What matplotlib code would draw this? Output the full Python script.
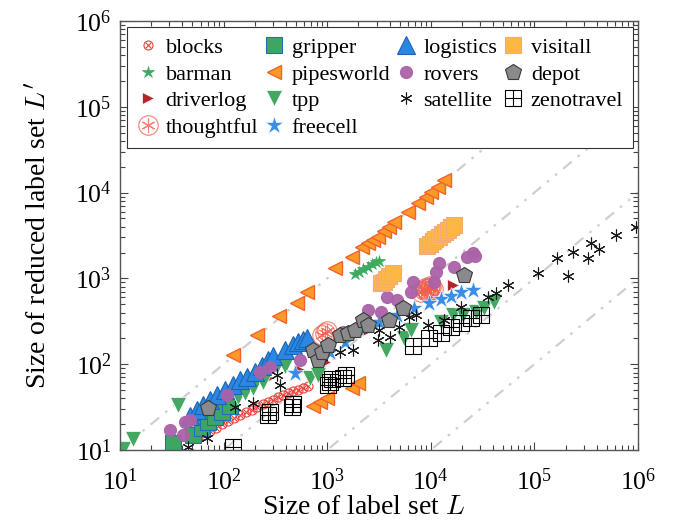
import numpy as np
import matplotlib
matplotlib.use("Agg")
import matplotlib.pyplot as plt

plt.rcParams["font.family"] = ["Liberation Serif", "DejaVu Serif"]
plt.rcParams["mathtext.fontset"] = "cm"

# label set sizes |L| and reduced sizes |L'| per domain
blocks_x = [57, 64, 74, 84, 97, 111, 127, 145, 165, 189, 211, 242, 270, 301, 336, 376, 421, 470, 527, 589, 657]
blocks_y = [13.8, 15.0, 16.6, 18.0, 20.1, 21.8, 23.6, 25.6, 27.8, 29.3, 31.8, 34.4, 36.3, 38.3, 41.5, 43.8, 46.1, 48.7, 50, 52.8, 55.7]

barman_x = [1870, 2050, 2240, 2450, 2680, 2930, 3130]
barman_y = [1125, 1190, 1290, 1360, 1470, 1550, 1590]

driverlog_x = [86, 111, 236, 270, 551, 960, 2500, 6100, 16240]
driverlog_y = [27.8, 31.8, 69, 69, 85.5, 106, 250, 452, 838]

thoughtful_x = [899, 960, 1005, 7960, 8510, 8900, 9520, 9950, 10410, 9110, 9735, 8700, 9300]
thoughtful_y = [219, 231, 243, 694, 732, 752, 772, 793, 752, 713, 815, 780, 700]

gripper_x = [32.6, 50.8, 61.7, 70.7, 82.7, 97.3, 116]
gripper_y = [12.1, 15.0, 18.0, 21.2, 24.3, 27.8, 32.6]

pipesworld_x = [124, 211, 344, 515, 643, 1200, 1750, 2190, 2450, 2740, 3060, 3500, 3910, 4370,
                5970, 7450, 8900, 9950, 11640, 13300, 734, 859, 1005, 1753, 2000]
pipesworld_y = [128, 218, 364, 517, 694, 1320, 1775, 2320, 2590, 2800, 3040, 3570, 3970, 4550,
                5940, 7570, 8890, 10160, 11620, 14020, 32.6, 36.3, 40.4, 52.8, 60]

tpp_x = [10.7, 13.4, 36.3, 139, 162, 193, 242, 329, 394, 687, 821, 3660, 5460, 6380, 12445,
         16240, 20300, 27130, 32430, 40450]
tpp_y = [10.3, 13.5, 33.5, 41.5, 46.1, 52.8, 62.1, 95.2, 95.2, 69.1, 74.8, 146.5, 201.5, 250, 310,
         374.5, 374.5, 405.7, 452, 530.8]

freecell_x = [493, 1074, 1501, 2002, 3129, 4769, 6823, 9520, 12445, 15530, 19410, 25390]
freecell_y = [78.9, 138.9, 181.5, 264, 310, 374.5, 452, 517, 575, 623, 694, 732]

logistics_x = [47.5, 55.5, 63, 74, 86, 104, 124, 145, 169, 202, 236, 270, 301, 394, 470, 527, 589, 643]
logistics_y = [24.9, 29.3, 33.5, 38.3, 43.8, 50, 57.2, 65.5, 71, 81, 95, 112, 125, 146, 168, 182, 191, 202]

rovers_x = [30.5, 40.6, 42.5, 47.5, 109, 226, 282, 551, 1436, 2500, 3273, 3820, 4770, 6380, 6680,
            10640, 11130, 11900, 16600, 22150, 25390, 26500]
rovers_y = [17.1, 15, 21.2, 22.4, 43.7, 81, 92.7, 112, 237, 428, 406, 607, 560, 694, 908,
            908, 1187, 1510, 1357, 1775, 1976, 1820]

satellite_x = [45.4, 68.9, 130, 193, 329, 352, 899, 1343, 1792, 3062, 3129, 4083, 4880, 6100, 7136,
               9300, 13300, 19410, 35440, 42300, 55250, 107750, 164500, 210100, 235300, 328400,
               350800, 419200, 613000, 956000]
satellite_y = [10.9, 13.8, 31.8, 35.3, 74.8, 57.2, 121, 139, 146.5, 191, 250, 207, 271, 355, 374.5,
               286, 327, 465, 606, 675, 838, 1155, 1727, 1065, 2030, 1727, 2586, 2200, 3205, 3972]

visitall_x = [3270, 3500, 3735, 3990, 4270, 9100, 9740, 10400, 11100, 11900, 12700, 13600, 14500, 15500, 16600]
visitall_y = [884, 908, 984, 1066, 1155, 2380, 2540, 2710, 2880, 3060, 3260, 3470, 3690, 3940, 4190]

depot_x = [70.7, 734, 821, 899, 1027, 1343, 1602, 1874, 2238, 2503, 3911, 5340, 20750]
depot_y = [30.9, 146.5, 112, 139, 167.5, 219, 231, 250, 327, 286, 327, 452, 1095]

zenotravel_x = [124, 270, 282, 460, 470, 1027, 1074, 1123, 1436, 1532, 6677, 9520, 12445, 15530,
                19410, 24270, 30340]
zenotravel_y = [10.8, 25.6, 27.8, 31.8, 34.4, 57.2, 62.1, 67.3, 69.1, 74.8, 163, 201.5, 231, 271,
                302, 345, 374.5]

ratios = [1, 0.1, 0.01, 0.001]

fig = plt.figure(figsize=(6.83, 5.23), dpi=100)
ax = fig.add_axes([0.1757, 0.1396, 0.7584, 0.8203])

# reference lines L' = r * L
line_x = np.array([10, 1e6])
for r in ratios:
    ax.plot(line_x, line_x * r, color="#cfcfcf", lw=1.6, dashes=[5, 3.5, 1.2, 3.5, 1.2, 3.5], zorder=1)

ew = 0.8
h_blocks = (ax.plot(blocks_x, blocks_y, "o", ms=6.5, mfc="none", mec="#e8453a", mew=ew)[0],
            ax.plot(blocks_x, blocks_y, "x", ms=4.4, mec="#e8453a", mew=ew)[0])
h_barman = ax.plot(barman_x, barman_y, "*", ms=9, color="#3daa5f", mec="#3daa5f", mew=0.5)[0]
h_driverlog = ax.plot(driverlog_x, driverlog_y, ">", ms=8, color="#b3242b", mec="white", mew=0.5)[0]
h_thoughtful = (ax.plot(thoughtful_x, thoughtful_y, "o", ms=14, mfc="none", mec="#f0604f", mew=ew, alpha=0.8)[0],
                ax.plot(thoughtful_x, thoughtful_y, marker=(6, 2, 0), ls="none", ms=10, mec="#f0604f", mew=ew, alpha=0.8)[0])
h_gripper = ax.plot(gripper_x, gripper_y, "s", ms=11, mfc="#3ea562", mec="#1f6fb8", mew=ew)[0]
h_pipesworld = ax.plot(pipesworld_x, pipesworld_y, "<", ms=10, mfc="#fd9a27", mec="#f2632b", mew=1.0)[0]
h_tpp = ax.plot(tpp_x, tpp_y, "v", ms=11, color="#45a862", mec="white", mew=0.5)[0]
h_freecell = ax.plot(freecell_x, freecell_y, "*", ms=13.5, color="#3b8ee8", mec="white", mew=0.4)[0]
h_logistics = ax.plot(logistics_x, logistics_y, "^", ms=13, mfc="#2a88e2", mec="#1c62b5", mew=ew)[0]
h_rovers = ax.plot(rovers_x, rovers_y, "o", ms=8.5, color="#ab62a8", mec="#ab62a8", alpha=0.95)[0]
h_satellite = ax.plot(satellite_x, satellite_y, marker=(6, 2, 0), ls="none", ms=8.5, mec="#1a1a1a", mew=0.8)[0]
h_visitall = ax.plot(visitall_x, visitall_y, "s", ms=12, mfc="#fdb844", mec="#f3a978", mew=ew)[0]
h_depot = ax.plot(depot_x, depot_y, "p", ms=12, mfc="#8a8a8c", mec="#3a3a3a", mew=ew)[0]
h_zenotravel = (ax.plot(zenotravel_x, zenotravel_y, "s", ms=11, mfc="none", mec="black", mew=ew)[0],
                ax.plot(zenotravel_x, zenotravel_y, "+", ms=11, mec="black", mew=ew)[0])

handles = [h_blocks, h_barman, h_driverlog, h_thoughtful, h_gripper, h_pipesworld, h_tpp, h_freecell,
           h_logistics, h_rovers, h_satellite, h_visitall, h_depot, h_zenotravel]
labels = ["blocks", "barman", "driverlog", "thoughtful", "gripper", "pipesworld", "tpp", "freecell",
          "logistics", "rovers", "satellite", "visitall", "depot", "zenotravel"]

ax.set_xscale("log")
ax.set_yscale("log")
ax.set_xlim(10, 1e6)
ax.set_ylim(10, 1e6)

ax.tick_params(which="both", direction="in", top=True, right=True, color="#444444", width=0.8)
ax.tick_params(which="major", length=6, labelsize=18.5)
ax.tick_params(which="minor", length=3.5)
ax.tick_params(axis="x", pad=13)
ax.tick_params(axis="y", pad=6)
for s in ax.spines.values():
    s.set_color("#555555")
    s.set_linewidth(1.0)

ax.set_xlabel("Size of label set $L$", fontsize=20, labelpad=2)
ax.set_ylabel("Size of reduced label set $L'$", fontsize=20, labelpad=16)
ax.xaxis.set_label_coords(0.47, -0.105)

leg = ax.legend(handles, labels, ncol=4, loc="upper left", bbox_to_anchor=(0.013, 0.985),
                borderaxespad=0, fontsize=16, frameon=True, fancybox=False, framealpha=1,
                edgecolor="#333333", handlelength=1.0, handletextpad=0.3, columnspacing=0.2,
                labelspacing=0.27, borderpad=0.45)
leg.get_frame().set_linewidth(0.8)

fig.savefig("out.png", dpi=100)
plt.close(fig)
